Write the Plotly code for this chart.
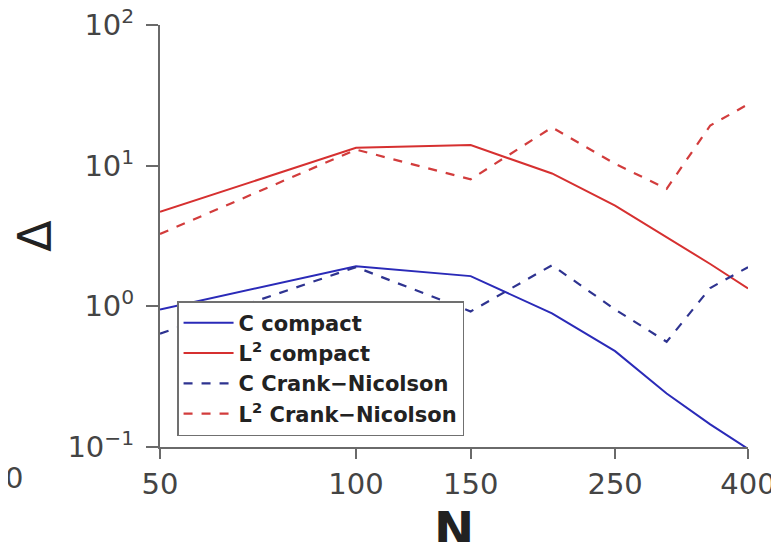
import plotly.graph_objects as go

N = [50, 100, 150, 200, 250, 300, 350, 400]
c_compact = [0.95, 1.93, 1.64, 0.89, 0.48, 0.24, 0.145, 0.097]
l2_compact = [4.7, 13.4, 14.0, 8.8, 5.2, 3.1, 2.0, 1.34]
c_cn = [0.64, 1.9, 0.92, 1.96, 0.95, 0.56, 1.35, 1.9]
l2_cn = [3.27, 13.0, 8.0, 18.7, 10.3, 6.85, 19.3, 27.3]

xticks = [50, 100, 150, 250, 400]
yticks = [0.1, 1, 10, 100]
yticklabels = ["10<sup>−1</sup>", "10<sup>0</sup>", "10<sup>1</sup>", "10<sup>2</sup>"]

blue = "#2a2ab8"
red = "#d63030"
blue_d = "#2e3390"
red_d = "#d23c3c"

fig = go.Figure()
fig.add_trace(go.Scatter(x=N, y=c_compact, mode="lines", name="C compact",
                         line=dict(color=blue, width=2)))
fig.add_trace(go.Scatter(x=N, y=l2_compact, mode="lines", name="L<sup>2</sup> compact",
                         line=dict(color=red, width=2)))
fig.add_trace(go.Scatter(x=N, y=c_cn, mode="lines", name="C Crank−Nicolson",
                         line=dict(color=blue_d, width=2.2, dash="dash")))
fig.add_trace(go.Scatter(x=N, y=l2_cn, mode="lines", name="L<sup>2</sup> Crank−Nicolson",
                         line=dict(color=red_d, width=2.2, dash="dash")))

axis_col = "#6a6a6a"
fig.update_layout(
    width=779, height=542,
    margin=dict(l=152, r=39, t=17, b=103),
    paper_bgcolor="white", plot_bgcolor="white",
    font=dict(family="DejaVu Sans", color="#444"),
    showlegend=True,
    legend=dict(x=0.029, y=0.026, xanchor="left", yanchor="bottom",
                bgcolor="white", bordercolor="#707070", borderwidth=1.5,
                font=dict(size=21, color="#222", family="DejaVu Sans", weight="bold"),
                itemwidth=50, tracegroupgap=0),
    xaxis=dict(type="log", range=[1.69897, 2.60206], tickvals=xticks,
               ticktext=[str(v) for v in xticks], automargin=False,
               ticklabeloverflow="allow",
               showline=True, linecolor=axis_col, linewidth=2,
               ticks="outside", ticklen=10, tickwidth=1.5, tickcolor=axis_col,
               showgrid=False, zeroline=False,
               tickfont=dict(size=29, color="#444")),
    yaxis=dict(type="log", range=[-1, 2], tickvals=yticks, ticktext=yticklabels,
               automargin=False, ticklabeloverflow="allow", ticklabelstandoff=6,
               showline=True, linecolor=axis_col, linewidth=2,
               ticks="outside", ticklen=12, tickwidth=1.5, tickcolor=axis_col,
               showgrid=False, zeroline=False,
               tickfont=dict(size=29, color="#444"),
               title=dict(text="Δ", font=dict(size=46, color="#222"), standoff=8)),
)
fig.add_annotation(text="<b>N</b>", xref="paper", yref="paper",
                   x=0.5, y=(447 - 499) / 422,
                   xanchor="center", yanchor="top", showarrow=False,
                   font=dict(size=48, color="#222"))
fig.add_annotation(text="0", xref="paper", yref="paper",
                   x=(14 - 160) / 588, y=(447 - 478) / 422,
                   xanchor="center", yanchor="middle", showarrow=False,
                   font=dict(size=29, color="#444"))

fig.write_html("out.html")
